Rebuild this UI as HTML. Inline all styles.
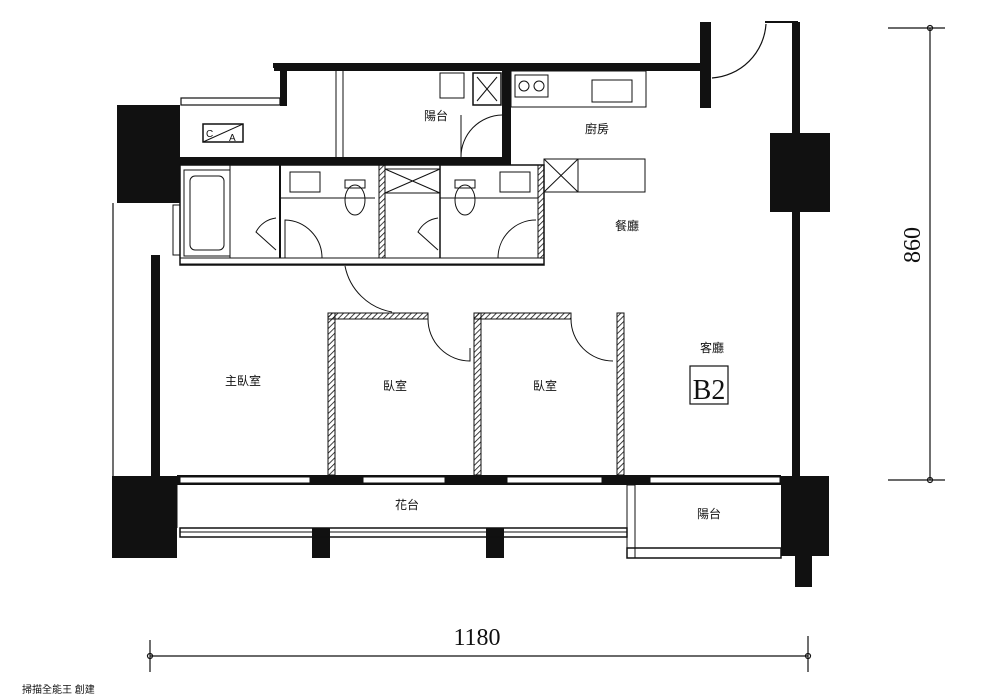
<!DOCTYPE html>
<html><head><meta charset="utf-8"><style>
html,body{margin:0;padding:0;background:#fff;}
svg{display:block;}
text{font-family:"Liberation Sans","Noto Sans CJK TC",sans-serif;fill:#111;}
</style></head><body>
<svg width="1000" height="699" viewBox="0 0 1000 699" xmlns="http://www.w3.org/2000/svg">
<defs>
<pattern id="h" width="4" height="4" patternUnits="userSpaceOnUse" patternTransform="rotate(45)"><line x1="0" y1="0" x2="0" y2="4" stroke="#111" stroke-width="1.6"/></pattern>
</defs>
<rect width="1000" height="699" fill="#fff"/>
<g fill="#111">
<!-- columns -->
<rect x="117" y="105" width="63" height="98"/>
<rect x="770" y="133" width="60" height="79"/>
<rect x="112" y="476" width="65" height="82"/>
<rect x="781" y="476" width="48" height="80"/>
<rect x="795" y="553" width="17" height="34"/>
<rect x="312" y="528" width="18" height="30"/>
<rect x="486" y="528" width="18" height="30"/>
<!-- walls -->
<rect x="274" y="63" width="436" height="8"/>
<rect x="700" y="22" width="11" height="86"/>
<rect x="792" y="22" width="8" height="456"/>
<rect x="180" y="157" width="331" height="8"/>
<rect x="502" y="71" width="9" height="86"/>
<rect x="151" y="255" width="9" height="222"/>
<rect x="177" y="475" width="604" height="10"/>
<rect x="273" y="63" width="14" height="5"/>
<rect x="280" y="68" width="7" height="38"/>
</g>
<!-- right wall top to door -->
<line x1="765" y1="22" x2="798" y2="22" stroke="#111" stroke-width="2"/>
<path d="M712 78 A58 58 0 0 0 766 24" fill="none" stroke="#111" stroke-width="1.2"/>
<!-- thin lines -->
<line x1="113" y1="203" x2="113" y2="476" stroke="#111" stroke-width="1.2"/>
<rect x="181" y="98" width="99" height="7" fill="none" stroke="#111" stroke-width="1.2"/>
<line x1="336" y1="71" x2="336" y2="157" stroke="#111" stroke-width="1"/>
<line x1="343" y1="71" x2="343" y2="157" stroke="#111" stroke-width="1"/>
<!-- washer -->
<rect x="203" y="124" width="40" height="18" fill="none" stroke="#111" stroke-width="1.5"/>
<line x1="203" y1="142" x2="243" y2="124" stroke="#111"/>
<text x="206" y="137" font-size="10">C</text><text x="229" y="141" font-size="10">A</text>
<!-- balcony items -->
<rect x="440" y="73" width="24" height="25" fill="none" stroke="#111"/>
<rect x="473" y="73" width="28" height="32" fill="none" stroke="#111" stroke-width="1.5"/>
<line x1="477" y1="77" x2="497" y2="101" stroke="#111"/><line x1="497" y1="77" x2="477" y2="101" stroke="#111"/>
<path d="M461 157 A42 42 0 0 1 502 115" fill="none" stroke="#111"/>
<line x1="461" y1="157" x2="461" y2="115" stroke="#111"/>
<!-- kitchen -->
<rect x="511" y="71" width="135" height="36" fill="none" stroke="#111"/>
<rect x="515" y="75" width="33" height="22" fill="none" stroke="#111"/>
<circle cx="524" cy="86" r="5" fill="none" stroke="#111"/><circle cx="539" cy="86" r="5" fill="none" stroke="#111"/>
<rect x="592" y="80" width="40" height="22" fill="none" stroke="#111"/>
<rect x="544" y="159" width="101" height="33" fill="none" stroke="#111"/>
<rect x="544" y="159" width="34" height="33" fill="none" stroke="#111"/>
<line x1="544" y1="159" x2="578" y2="192" stroke="#111"/><line x1="578" y1="159" x2="544" y2="192" stroke="#111"/>
<!-- bathrooms -->
<rect x="180" y="165" width="364" height="100" fill="none" stroke="#111" stroke-width="1.5"/>
<rect x="180" y="258" width="364" height="6" fill="none" stroke="#111"/>
<rect x="184" y="170" width="46" height="86" fill="none" stroke="#111"/>
<rect x="190" y="176" width="34" height="74" rx="5" fill="none" stroke="#111"/>
<line x1="230" y1="165" x2="230" y2="258" stroke="#111"/>
<line x1="280" y1="165" x2="280" y2="258" stroke="#111" stroke-width="2"/>
<rect x="379" y="165" width="6" height="93" fill="url(#h)" stroke="#111"/>
<rect x="538" y="165" width="6" height="93" fill="url(#h)" stroke="#111"/>
<line x1="440" y1="165" x2="440" y2="258" stroke="#111" stroke-width="1.5"/>
<rect x="385" y="169" width="55" height="24" fill="none" stroke="#111"/>
<line x1="385" y1="169" x2="440" y2="193" stroke="#111"/><line x1="440" y1="169" x2="385" y2="193" stroke="#111"/>
<path d="M280 198 H375 M440 198 H538" stroke="#111" fill="none"/>
<rect x="290" y="172" width="30" height="20" fill="none" stroke="#111"/>
<rect x="500" y="172" width="30" height="20" fill="none" stroke="#111"/>
<ellipse cx="355" cy="200" rx="10" ry="15" fill="none" stroke="#111"/>
<ellipse cx="465" cy="200" rx="10" ry="15" fill="none" stroke="#111"/>
<rect x="345" y="180" width="20" height="8" fill="none" stroke="#111"/>
<rect x="455" y="180" width="20" height="8" fill="none" stroke="#111"/>
<path d="M285 258 V220 A38 38 0 0 1 322 258" fill="none" stroke="#111"/>
<path d="M498 258 A38 38 0 0 1 536 220" fill="none" stroke="#111"/>
<path d="M276 250 L256 232 A26 26 0 0 1 276 218" fill="none" stroke="#111"/>
<path d="M438 250 L418 232 A26 26 0 0 1 438 218" fill="none" stroke="#111"/>
<rect x="173" y="205" width="7" height="50" fill="none" stroke="#111"/>
<!-- door to bedrooms area -->
<path d="M345 266 A58 58 0 0 0 392 312" fill="none" stroke="#111"/>
<!-- bedroom walls hatched -->
<rect x="328" y="313" width="100" height="6" fill="url(#h)" stroke="#111"/>
<rect x="328" y="313" width="7" height="162" fill="url(#h)" stroke="#111"/>
<rect x="474" y="313" width="97" height="6" fill="url(#h)" stroke="#111"/>
<rect x="474" y="313" width="7" height="162" fill="url(#h)" stroke="#111"/>
<rect x="617" y="313" width="7" height="162" fill="url(#h)" stroke="#111"/>
<path d="M428 319 A42 42 0 0 0 470 361 L470 348" fill="none" stroke="#111"/>
<path d="M571 319 A42 42 0 0 0 613 361" fill="none" stroke="#111"/>
<!-- windows -->
<g fill="#fff" stroke="#111">
<rect x="180" y="477" width="130" height="6"/><rect x="363" y="477" width="82" height="6"/>
<rect x="507" y="477" width="95" height="6"/><rect x="650" y="477" width="130" height="6"/>
</g>
<!-- flower bed -->
<line x1="177" y1="485" x2="177" y2="528" stroke="#111"/>
<rect x="180" y="528" width="447" height="9" fill="none" stroke="#111" stroke-width="1.5"/>
<line x1="180" y1="532" x2="627" y2="532" stroke="#111"/>
<rect x="627" y="485" width="8" height="73" fill="none" stroke="#111"/>
<rect x="627" y="548" width="154" height="10" fill="none" stroke="#111" stroke-width="1.5"/>
<line x1="635" y1="548" x2="781" y2="548" stroke="#111"/>
</g>
<!-- labels -->
<text x="424" y="120" font-size="12">陽台</text>
<text x="585" y="133" font-size="12">廚房</text>
<text x="615" y="230" font-size="12">餐廳</text>
<text x="700" y="352" font-size="12">客廳</text>
<rect x="690" y="366" width="38" height="38" fill="none" stroke="#111" stroke-width="1.2"/>
<text x="709" y="399" font-size="28" text-anchor="middle" style="font-family:'Liberation Serif',serif">B2</text>
<text x="225" y="385" font-size="12">主臥室</text>
<text x="383" y="390" font-size="12">臥室</text>
<text x="533" y="390" font-size="12">臥室</text>
<text x="395" y="509" font-size="12">花台</text>
<text x="697" y="518" font-size="12">陽台</text>
<!-- dims -->
<g stroke="#111" stroke-width="1.2" fill="none">
<line x1="930" y1="28" x2="930" y2="480"/><line x1="888" y1="28" x2="945" y2="28"/><line x1="888" y1="480" x2="945" y2="480"/>
<circle cx="930" cy="28" r="2.5"/><circle cx="930" cy="480" r="2.5"/>
<line x1="150" y1="656" x2="808" y2="656"/><line x1="150" y1="640" x2="150" y2="672"/><line x1="808" y1="636" x2="808" y2="672"/>
<circle cx="150" cy="656" r="2.5"/><circle cx="808" cy="656" r="2.5"/>
</g>
<text x="0" y="0" font-size="24" text-anchor="middle" transform="translate(920,245) rotate(-90)" style="font-family:'Liberation Serif',serif">860</text>
<text x="477" y="645" font-size="24" text-anchor="middle" style="font-family:'Liberation Serif',serif">1180</text>
<text x="22" y="693" font-size="10" fill="#666">掃描全能王 創建</text>
</svg>
</body></html>
